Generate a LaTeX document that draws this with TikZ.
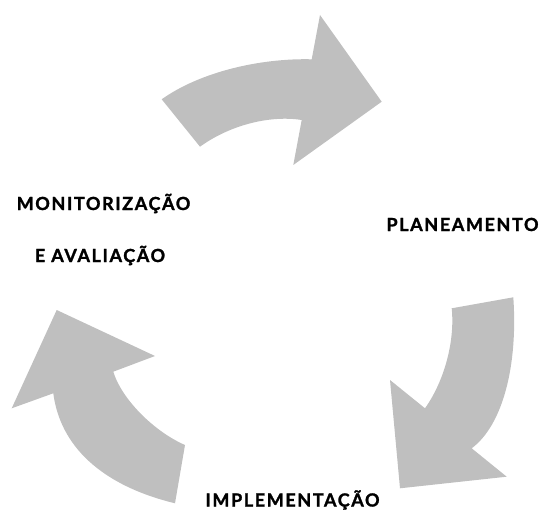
\documentclass[tikz,border=0pt]{standalone}
\usepackage{fontspec}
\setmainfont{Lato}[BoldFeatures={LetterSpace=9,FakeBold=1.5}]
\definecolor{arrowgray}{RGB}{191,191,191}
\begin{document}
\begin{tikzpicture}[x=1pt,y=-1pt,
  bigarrow/.style={fill=arrowgray,draw=none},
  lbl/.style={font=\bfseries\fontsize{18}{21}\selectfont,anchor=base,inner sep=0pt}]
\useasboundingbox (0,0) rectangle (539,511);
% top arrow
\fill[bigarrow] (200,146.7) -- (161.7,99.3)
  .. controls (200,72) and (260,58) .. (311.7,59.3)
  -- (320,15) -- (381.7,101.7) -- (293.3,165) -- (301.7,120)
  .. controls (270,115) and (230,125) .. cycle;
% right arrow
\fill[bigarrow] (513.3,297.3) -- (451.7,308.3)
  .. controls (455,340) and (445,380) .. (425,408.3)
  -- (390,380) -- (400,488.3) -- (506.7,476.7) -- (471.7,448.3)
  .. controls (503,425) and (518,365) .. cycle;
% left arrow
\fill[bigarrow] (175,503.3) -- (185,445)
  .. controls (155,432) and (122,400) .. (113.3,371.7)
  -- (155,356) -- (56.7,310) -- (11.7,408.3) -- (53.3,393.3)
  .. controls (60,445) and (100,485) .. cycle;
\node[lbl] (plan) at (462.5,231) {PLANEAMENTO};
\node[lbl] (mon) at (103.5,210) {MONITORIZAÇÃO};
\node[lbl] (aval) at (100,262) {E AVALIAÇÃO};
\node[lbl] (impl) at (292.5,506.5) {IMPLEMENTAÇÃO};
\end{tikzpicture}
\end{document}
